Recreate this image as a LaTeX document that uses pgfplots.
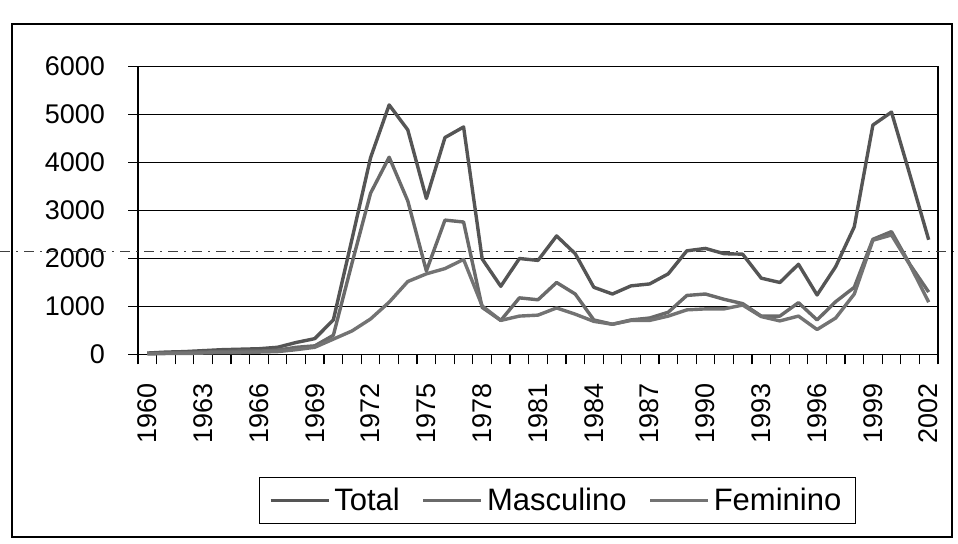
\documentclass[border=0pt]{standalone}
\usepackage{fontspec}
\setmainfont{Liberation Sans}
\usepackage{pgfplots}
\pgfplotsset{compat=1.18}
\definecolor{cTot}{HTML}{555555}
\definecolor{cMas}{HTML}{6A6A6A}
\definecolor{cFem}{HTML}{737373}
\begin{document}
\begin{tikzpicture}
\path[use as bounding box] (0,0) rectangle (479pt,272pt);
\begin{axis}[
  at={(69pt,94.75pt)}, anchor=south west,
  width=400pt, height=144pt, scale only axis,
  xmin=1959.5, xmax=2002.5, ymin=0, ymax=6000,
  clip=false,
  xtick={1959.5,1960.5,...,2002.5}, xticklabels={},
  extra x ticks={1960,1963,...,2002},
  extra x tick style={major tick length=0pt, grid=none,
     xticklabel style={yshift=-11pt, rotate=90, anchor=east}},
  ytick={0,1000,...,6000},
  ymajorgrids, grid style={black, line width=0.5pt},
  axis line style={black, line width=0.6pt},
  tick style={black, line width=0.6pt},
  major tick length=5pt, tick align=outside,
  xtick pos=bottom, ytick pos=left,
  ticklabel style={font=\fontsize{13.5}{15}\selectfont},
  yticklabel style={xshift=-8pt},
  /pgf/number format/assume math mode=true,
  /pgf/number format/1000 sep={},
  legend style={at={(0.524,-0.507)}, anchor=center, draw=black, line width=0.6pt,
     font=\fontsize{15.5}{17}\selectfont, legend columns=3,
     inner xsep=5pt, inner ysep=3pt,
     /tikz/every even column/.append style={column sep=9pt}},
  legend image code/.code={\draw[#1, line width=1.6pt] (0pt,0pt) -- (29pt,0pt);},
  every axis plot/.append style={line width=1.7pt, line join=round},
]
\addplot[forget plot, black!75, line width=0.5pt, dash pattern=on 5pt off 3pt on 1pt off 3pt]
  coordinates {(1952.1,2150) (2003.6,2150)};
\addplot[cTot] coordinates {
(1960,30) (1961,50) (1962,60) (1963,80) (1964,100) (1965,110) (1966,120) (1967,150)
(1968,250) (1969,330) (1970,720) (1971,2400) (1972,4100) (1973,5200) (1974,4680)
(1975,3250) (1976,4520) (1977,4740) (1978,1990) (1979,1420) (1980,2000) (1981,1960)
(1982,2470) (1983,2100) (1984,1400) (1985,1260) (1986,1430) (1987,1470) (1988,1680)
(1989,2160) (1990,2210) (1991,2100) (1992,2090) (1993,1590) (1994,1500) (1995,1880)
(1996,1240) (1997,1830) (1998,2660) (1999,4780) (2000,5050) (2001,3730) (2002,2390)};
\addlegendentry{Total}
\addplot[cMas] coordinates {
(1960,20) (1961,30) (1962,40) (1963,50) (1964,60) (1965,70) (1966,70) (1967,90)
(1968,150) (1969,180) (1970,400) (1971,1900) (1972,3360) (1973,4110) (1974,3200)
(1975,1740) (1976,2800) (1977,2760) (1978,980) (1979,710) (1980,1180) (1981,1140)
(1982,1500) (1983,1260) (1984,720) (1985,630) (1986,720) (1987,760) (1988,880)
(1989,1230) (1990,1260) (1991,1150) (1992,1060) (1993,800) (1994,800) (1995,1080)
(1996,720) (1997,1100) (1998,1400) (1999,2400) (2000,2560) (2001,1870) (2002,1300)};
\addlegendentry{Masculino}
\addplot[cFem] coordinates {
(1960,10) (1961,20) (1962,20) (1963,30) (1964,40) (1965,40) (1966,50) (1967,60)
(1968,100) (1969,150) (1970,320) (1971,490) (1972,740) (1973,1090) (1974,1520)
(1975,1680) (1976,1790) (1977,1980) (1978,1010) (1979,710) (1980,800) (1981,820)
(1982,970) (1983,840) (1984,690) (1985,630) (1986,710) (1987,710) (1988,800)
(1989,930) (1990,950) (1991,950) (1992,1030) (1993,790) (1994,700) (1995,800)
(1996,520) (1997,760) (1998,1260) (1999,2380) (2000,2490) (2001,1860) (2002,1090)};
\addlegendentry{Feminino}
\end{axis}
\draw[line width=0.75pt] (6pt,3.5pt) rectangle (476pt,260pt);
\end{tikzpicture}
\end{document}
